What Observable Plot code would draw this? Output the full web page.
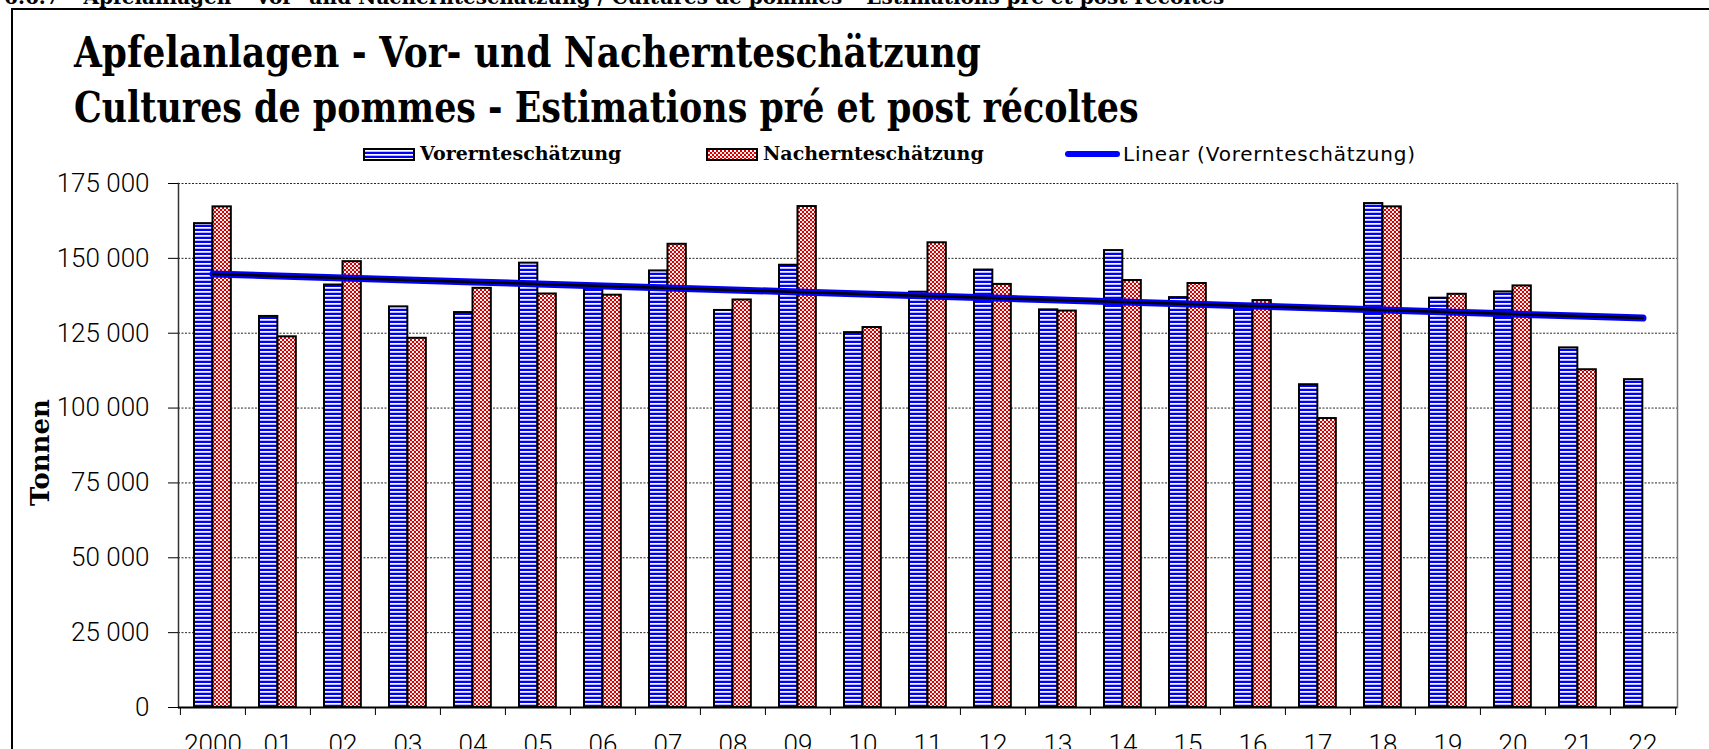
<!DOCTYPE html>
<html>
<head>
<meta charset="utf-8">
<script src="https://cdn.jsdelivr.net/npm/d3@7"></script>
<script src="https://cdn.jsdelivr.net/npm/@observablehq/plot@0.6"></script>
<style>
html, body { margin: 0; padding: 0; background: #fff; width: 1709px; height: 749px; overflow: hidden; }
body { position: relative; }
#header { position: relative; height: 165px; }
.abs { position: absolute; white-space: nowrap; line-height: 1; }
.slab { font-family: "DejaVu Serif", serif; font-weight: bold; color: #000; }
.title { transform-origin: 0 0; font-size: 42px; }
#frame { position: absolute; left: 11px; top: 8px; width: 3000px; height: 3000px; border-left: 2px solid #000; border-top: 2px solid #000; pointer-events: none; }
#chart svg { display: block; overflow: visible; }
</style>
</head>
<body>
<svg width="0" height="0" style="position:absolute">
  <defs>
    <pattern id="stripes" patternUnits="userSpaceOnUse" width="8" height="4">
      <rect width="8" height="4" fill="#ffffff"></rect>
      <rect width="8" height="2" fill="#0000ff"></rect>
      <rect y="3" width="8" height="0.8" fill="#a8a8ff"></rect>
    </pattern>
    <pattern id="checks" patternUnits="userSpaceOnUse" width="4" height="4">
      <rect width="4" height="4" fill="#ffffff"></rect>
      <rect x="0" y="0" width="2" height="2" fill="#d80000"></rect>
      <rect x="2" y="2" width="2" height="2" fill="#d80000"></rect>
      <rect x="2" y="0" width="2" height="2" fill="#fbe0e0"></rect>
    </pattern>
  </defs>
</svg>
<div id="frame"></div>
<div id="header">
  <div class="abs slab" style="left:4px; top:-13px; font-size:20px;">6.6.7 – Apfelanlagen – Vor- und Nachernteschätzung / Cultures de pommes – Estimations pré et post récoltes</div>
  <div class="abs slab title" style="left:74px; top:32px; transform: scaleX(0.855);">Apfelanlagen - Vor- und Nachernteschätzung</div>
  <div class="abs slab title" style="left:74px; top:87px; transform: scaleX(0.83);">Cultures de pommes - Estimations pré et post récoltes</div>
  <svg class="abs" style="left:363px; top:148px;" width="52" height="13"><rect x="1" y="1" width="50" height="11" fill="url(#stripes)" stroke="#000" stroke-width="2"></rect></svg>
  <div class="abs slab" style="left:420px; top:144px; font-size:19px;">Vorernteschätzung</div>
  <svg class="abs" style="left:706px; top:148px;" width="52" height="13"><rect x="1" y="1" width="50" height="11" fill="url(#checks)" stroke="#000" stroke-width="2"></rect></svg>
  <div class="abs slab" style="left:763px; top:144px; font-size:19px;">Nachernteschätzung</div>
  <div class="abs" style="left:1065px; top:151px; width:55px; height:6px; background:#0000ff; border-radius:3px;"></div>
  <div class="abs" style="left:1123px; top:144px; font-size:20px; letter-spacing:0.8px; font-family:'DejaVu Sans', sans-serif; color:#000;">Linear (Vorernteschätzung)</div>
</div>
<div id="chart"></div>
<script>
// ---- data ----
const years = ["2000","01","02","03","04","05","06","07","08","09","10","11","12","13","14","15","16","17","18","19","20","21","22"];
const vorernte = [161600,130600,141100,133800,131900,148400,140000,145800,132600,147700,125200,138700,146100,132800,152600,136900,134000,107800,168300,136700,138800,120100,109500];
const nachernte = [167200,123800,148900,123300,140000,138100,137700,154700,136100,167300,126900,155200,141300,132400,142600,141600,135900,96500,167200,138000,140800,112800,null];
const yTicks = [0,25000,50000,75000,100000,125000,150000,175000];
const yLabel = "Tonnen";

// ---- derived tables ----
const vorData = years.map((year, i) => ({year, value: vorernte[i]}));
const nachData = years.map((year, i) => ({year, value: nachernte[i]})).filter(d => d.value != null);
const idx = d3.range(vorernte.length);
const mx = d3.mean(idx), my = d3.mean(vorernte);
const slope = d3.sum(idx, i => (i - mx) * (vorernte[i] - my)) / d3.sum(idx, i => (i - mx) ** 2);
const trendData = years.map((year, i) => ({year, value: my + slope * (i - mx)}));

const W = 1709, ML = 178, MR = 32;
const bw = (W - ML - MR) / years.length;
const barW = 18.5, gap = 14;
const fmt = v => d3.format(",")(v).replace(/,/g, " ");

const chart = Plot.plot({
  width: W,
  height: 601,
  marginLeft: ML,
  marginRight: MR,
  marginTop: 18,
  marginBottom: 59,
  x: {type: "band", domain: years, padding: 0},
  y: {domain: [0, 175000]},
  style: {fontFamily: "Roboto, sans-serif", fontSize: "26px", fontWeight: 300, color: "#000", background: "transparent", overflow: "visible"},
  marks: [
    Plot.gridY(yTicks.filter(v => v > 0), {stroke: "#000", strokeOpacity: 0.85, strokeDasharray: "2,1.5"}),
    Plot.frame({anchor: "right", stroke: "#777", strokeWidth: 1.5}),
    Plot.barY(vorData, {x: "year", y: "value", fill: "url(#stripes)", stroke: "#000", strokeWidth: 2, insetLeft: gap, insetRight: bw - gap - barW}),
    Plot.barY(nachData, {x: "year", y: "value", fill: "url(#checks)", stroke: "#000", strokeWidth: 2, insetLeft: gap + barW, insetRight: bw - gap - 2 * barW}),
    Plot.frame({anchor: "left", stroke: "#333", strokeWidth: 1.5}),
    Plot.ruleY([0], {stroke: "#000", strokeWidth: 2}),
    Plot.line(trendData, {x: "year", y: "value", stroke: "#0000ff", strokeWidth: 7, strokeLinecap: "round"}),
    Plot.line(trendData, {x: "year", y: "value", stroke: "#000", strokeWidth: 2.5}),
    Plot.axisY({ticks: yTicks, tickSize: 10, tickPadding: 19, tickFormat: fmt, label: null}),
    Plot.axisX({ticks: years, tickSize: 8, dx: -bw / 2, tickFormat: () => "", label: null}),
    Plot.axisX({ticks: [years[years.length - 1]], tickSize: 8, dx: bw / 2, tickFormat: () => "", label: null}),
    Plot.axisX({ticks: years, tickSize: 0, tickPadding: 27, label: null}),
    Plot.text([yLabel], {frameAnchor: "left", textAnchor: "middle", rotate: -90, dx: -138, dy: 7, fontFamily: "DejaVu Serif", fontWeight: "bold", fontSize: 26})
  ]
});
document.getElementById("chart").appendChild(chart);
</script>
</body>
</html>
